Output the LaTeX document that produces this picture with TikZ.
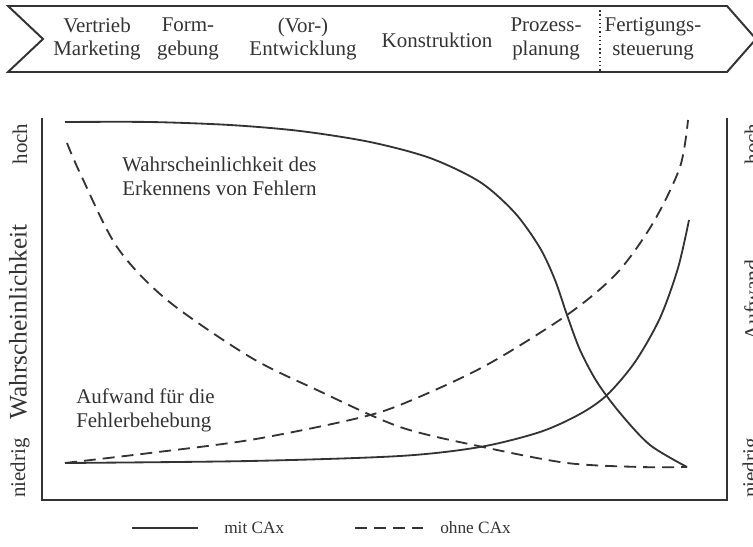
\documentclass[tikz,border=0pt]{standalone}
\usepackage{fontspec}
\setmainfont{Liberation Serif}
\usetikzlibrary{positioning}
\definecolor{grau}{HTML}{333333}

\begin{document}
\begin{tikzpicture}[
		linie/.style = {grau, line width=1.3pt},
		gestrichelt/.style = {linie, dash pattern=on 8.5pt off 5pt},
		beschr/.style = {text=grau, font=\fontsize{14.9}{17}\selectfont, align=center, inner sep=0pt},
		skala/.style = {beschr, rotate=90},
		groesse/.style = {text=grau, font=\fontsize{18}{20}\selectfont, inner sep=0pt, rotate=90},
		legende/.style = {text=grau, font=\fontsize{12.3}{14}\selectfont, inner sep=0pt},
	]
		\useasboundingbox (0,0) rectangle (18.825,13.65);
		\draw[grau, line width=1.4pt] (0.2,13.5) -- (18.175,13.5) -- (18.9,12.675) -- (18.175,11.85) -- (0.2,11.85) -- (1.075,12.675) -- cycle;
		\draw[grau, line width=1pt, dotted] (15,13.5) -- (15,11.85);
		\node[beschr] (vertrieb) at (2.425,12.675) {Vertrieb\\Marketing};
		\node[beschr] (form) at (4.7,12.675) {Form-\\gebung};
		\node[beschr] (entw) at (7.575,12.675) {(Vor-)\\Entwicklung};
		\node[beschr] (konstr) at (10.925,12.65) {Konstruktion};
		\node[beschr] (prozess) at (13.65,12.675) {Prozess-\\planung};
		\node[beschr] (fertig) at (16.325,12.675) {Fertigungs-\\steuerung};
		\draw[grau, line width=1.4pt] (1.05,10.7) -- (1.05,1.15) -- (18.175,1.15) -- (18.175,10.7);
		\node[skala] (hochl) at (0.5,10.05) {hoch};
		\node[groesse] (wahr) at (0.45,5.6) {Wahrscheinlichkeit};
		\node[skala] (niedrigl) at (0.5,1.95) {niedrig};
		\node[skala] (hochr) at (18.8,10.05) {hoch};
		\node[groesse, font=\fontsize{15.5}{18}\selectfont] (aufw) at (18.8,6.15) {Aufwand};
		\node[skala] (niedrigr) at (18.8,1.95) {niedrig};
		\draw[linie] plot[smooth] coordinates {(1.625,10.6) (3.75,10.6) (5.75,10.525) (7.5,10.375) (9.25,10.1) (10.75,9.7) (12.0,9.1) (12.875,8.325) (13.5,7.45) (13.875,6.65) (14.175,5.775) (14.5,4.9) (14.925,4.1) (15.5,3.325) (16.25,2.525) (17.175,1.975)};
		\draw[gestrichelt] plot[smooth] coordinates {(1.675,10.075) (2.0,9.325) (2.925,7.475) (4.175,6.15) (6.25,4.725) (7.925,3.9) (10.0,2.975) (12.075,2.475) (14.175,2.075) (16.0,1.975) (17.175,1.975)};
		\draw[gestrichelt] plot[smooth] coordinates {(1.625,2.075) (3.75,2.325) (6.25,2.65) (8.75,3.15) (10.0,3.525) (12.075,4.475) (14.175,5.775) (15.425,6.825) (16.325,8.075) (17.0,9.475) (17.2,10.65)};
		\draw[linie] plot[smooth] coordinates {(1.625,2.075) (6.25,2.125) (10.0,2.25) (12.0,2.475) (13.5,2.85) (14.5,3.3) (15.175,3.775) (15.875,4.6) (16.5,5.7) (16.95,6.95) (17.225,8.15)};
		\node[beschr, align=left, anchor=west] (erkennen) at (3.05,9.25) {Wahrscheinlichkeit des\\Erkennens von Fehlern};
		\node[beschr, align=left, anchor=west] (behebung) at (1.9,3.4) {Aufwand für die\\Fehlerbehebung};
		\coordinate (mitA) at (3.3,0.45);
		\coordinate (mitB) at (4.95,0.45);
		\draw[linie] (mitA) -- (mitB);
		\node[legende, right=0.65 of mitB] (mit) {mit CAx};
		\coordinate (ohneA) at (8.875,0.45);
		\coordinate (ohneB) at (10.575,0.45);
		\draw[gestrichelt] (ohneA) -- (ohneB);
		\node[legende, right=0.425 of ohneB] (ohne) {ohne CAx};
	\end{tikzpicture}
\end{document}
